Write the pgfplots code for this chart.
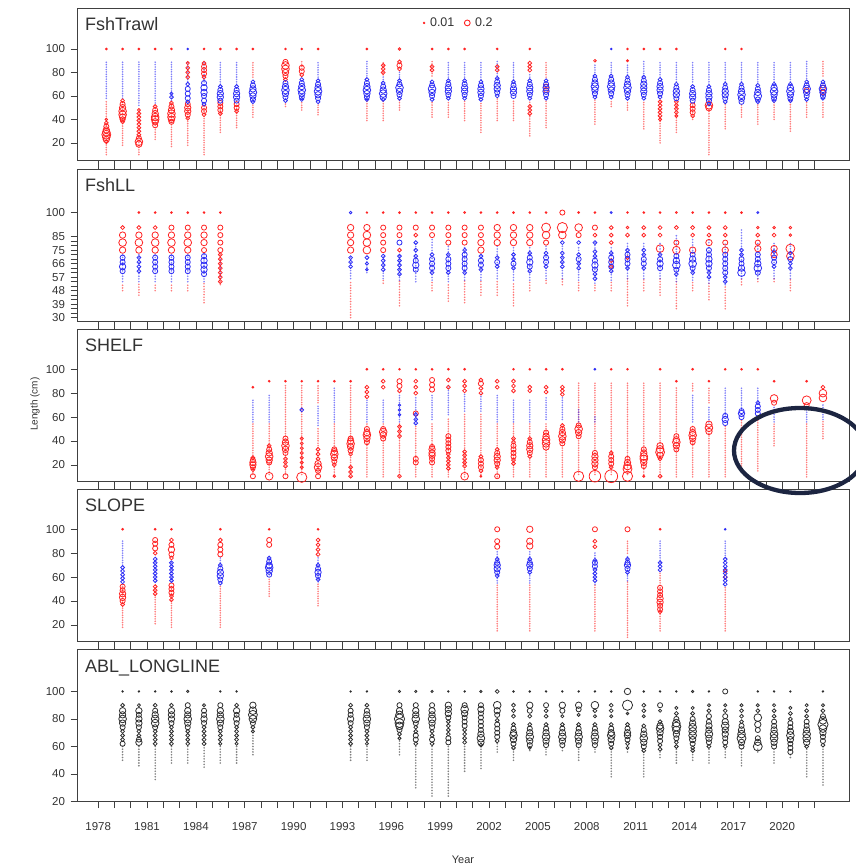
\documentclass[border=0pt]{standalone}
\usepackage{pgfplots}
\pgfplotsset{compat=1.18}
\usepackage{pgfplotstable}
\usepackage{fontspec}
\setmainfont{Liberation Sans}
\definecolor{mred}{RGB}{255,35,35}
\definecolor{mblue}{RGB}{45,45,245}
\definecolor{mblk}{RGB}{45,45,45}
\definecolor{navy}{RGB}{28,37,65}
\definecolor{axgray}{RGB}{64,64,64}
\definecolor{txt}{RGB}{51,51,51}

\pgfplotsset{
 panel/.style={scale only axis, width=772pt, height=152pt, anchor=north west,
   xmin=1976.7, xmax=2024.1,
   axis line style={axgray, line width=0.8pt},
   tick style={axgray, line width=0.6pt},
   tick align=outside, major tick length=6.5pt, minor tick length=6.5pt,
   xtick={1978,1981,...,2020}, minor xtick={1978,...,2022},
   ytick pos=left,
   /pgf/number format/assume math mode=true, /pgf/number format/1000 sep={},
   tick label style={font=\fontsize{11.5}{12}\selectfont, text=txt},
   yticklabel style={xshift=-2pt},
   clip=false},
 tail/.style={forget plot, quiver={u=0, v=\thisrow{b}-\thisrow{a}}, line width=1.8pt, line cap=round, dash pattern=on 0pt off #1, opacity=0.6},
 bub/.style={forget plot, scatter, only marks, mark=o, line width=0.8pt, scatter/use mapped color={draw=#1}, visualization depends on={\thisrow{r}\as\rr}, scatter/@pre marker code/.append style={/tikz/mark size=1.28*\rr}}
}
\tikzset{ptitle/.style={anchor=base west, font=\fontsize{18}{18}\selectfont, text=txt, xshift=4.5pt, yshift=-22.5pt}}

% ---------------- Panel 1: FshTrawl ----------------
\pgfplotstableread[row sep=\\]{
yr a b\\
1978 10 56\\1979 18 56\\1980 10 50\\1981 23 52\\1982 17 54\\1983 18 52\\1984 10 52\\1985 29 52\\1986 33 52\\1987 42 54\\1987 76 90\\
1989 51 55\\1990 48 56\\1990 85 90\\1991 44 54\\1994 39 56\\1995 39 56\\1995 78 90\\1996 48 57\\1998 42 56\\1998 77 90\\1999 42 56\\2000 39 56\\2001 29 55\\2002 39 58\\2003 39 57\\2004 26 56\\2005 33 56\\2005 76 90\\
2008 36 57\\2009 51 57\\2010 48 56\\2011 32 56\\2012 20 56\\2013 29 56\\2014 40 54\\2015 10 50\\2016 32 54\\2017 42 54\\2018 36 54\\2019 40 55\\2020 30 55\\2021 42 56\\2022 42 56\\2022 77 90\\
}\PaTr
\pgfplotstableread[row sep=\\]{
yr a b\\
1978 58 90\\1979 58 90\\1980 52 90\\1981 54 90\\1982 56 90\\1983 72 90\\1984 72 90\\1985 70 90\\1986 70 90\\1991 74 90\\1994 75 90\\1995 72 77\\1996 74 82\\
1999 74 90\\2000 74 90\\2001 74 90\\2002 75 90\\2003 74 90\\2004 76 80\\2008 78 88\\2009 76 90\\2010 78 88\\2011 77 90\\2012 76 90\\2013 72 90\\2014 72 90\\
2015 70 90\\2016 72 90\\2017 72 90\\2018 72 90\\2019 72 90\\2020 72 90\\2021 75 90\\
}\PaTb
\pgfplotstableread[row sep=\\]{
yr v r\\
1978 100 .7\\1978 40 1\\1978 37 1.5\\1978 34 2\\1978 31 2.5\\1978 29 3\\1978 27 3.5\\1978 25 3\\1978 23 2.5\\1978 21 1.5\\
1979 100 .7\\1979 56 1.5\\1979 53 2\\1979 50 2.5\\1979 47 3\\1979 44 3\\1979 42 2.5\\1979 40 2\\1979 38 1.5\\
1980 100 .7\\1980 48 1.2\\1980 45 1.5\\1980 42 1.5\\1980 39 1.5\\1980 36 1.5\\1980 33 1.5\\1980 30 1.5\\1980 27 1.5\\1980 24 2\\1980 21 3\\1980 19 2.5\\
1981 100 .7\\1981 51 1.5\\1981 48 2\\1981 45 2.5\\1981 42 3\\1981 40 3\\1981 38 2.5\\1981 35 2\\
1982 100 .7\\1982 54 1.5\\1982 51 2\\1982 48 2.5\\1982 45 3\\1982 42 3\\1982 40 2.5\\1982 38 2\\
1983 88 1.2\\1983 84 1.5\\1983 80 1.5\\1983 76 1.5\\1983 53 2\\1983 50 2.5\\1983 47 2.5\\1983 44 2\\1983 41 1.5\\
1984 100 .7\\1984 88 1.5\\1984 85 2\\1984 82 2\\1984 79 2\\1984 76 1.5\\1984 50 2\\1984 47 2\\1984 44 1.5\\
1985 100 .7\\1985 54 2\\1985 51 2\\1985 48 2\\1985 45 1.5\\
1986 100 .7\\1986 53 2\\1986 50 2\\1986 47 1.5\\
1987 100 .7\\
1989 100 .7\\1989 89 2\\1989 86 3\\1989 83 3\\1989 80 2.5\\1989 77 2\\1989 74 1.5\\
1990 100 .7\\1990 84 2\\1990 81 2\\1990 78 1.5\\
1991 100 .7\\1994 100 .7\\
1995 86 1.5\\1995 83 1.5\\1995 80 1.5\\
1996 100 1\\1996 89 1.5\\1996 86 2\\1996 83 1.5\\
1998 100 .7\\1998 85 1.5\\1998 82 1.5\\
1999 100 .7\\2000 100 .7\\
2002 100 .7\\2002 85 1.5\\2002 82 1.5\\
2004 100 .7\\2004 88 1.5\\2004 85 1.5\\2004 82 1.5\\2004 51 1.5\\2004 48 1.5\\2004 45 1.5\\
2005 68 2\\2005 65 2\\
2008 90 1\\2010 100 .7\\2010 90 .8\\2011 100 .7\\
2012 100 .7\\2012 55 1.5\\2012 52 1.5\\2012 49 1.5\\2012 46 1.5\\2012 43 1.5\\2012 40 1.2\\
2013 100 .7\\2013 55 1.5\\2013 52 1.5\\2013 49 1.5\\2013 46 1.5\\2013 43 1.2\\
2014 52 2\\2014 49 2\\2014 46 2\\2014 43 1.5\\
2015 52 3\\2015 50 2.5\\
2016 100 .7\\2017 100 .7\\
2021 65 2\\2022 67 2\\2022 63 2\\
}\PaCr
\pgfplotstableread[row sep=\\]{
yr v r\\
1982 62 1.2\\1982 59 1.5\\
1983 100 .7\\1983 70 1.5\\1983 66 2\\1983 62 2\\1983 58 2\\1983 55 1.5\\
1984 71 2\\1984 67 2.5\\1984 63 2.5\\1984 60 2\\1984 56 2\\1984 53 1.5\\
1985 68 1.5\\1985 65 2\\1985 62 2.5\\1985 59 2.5\\1985 56 2\\
1986 68 1.5\\1986 65 2\\1986 62 2.5\\1986 59 2.5\\1986 56 2\\
1987 72 1.5\\1987 69 2\\1987 66 2.5\\1987 63 3\\1987 60 2.5\\1987 57 2\\1987 55 1.5\\
1989 71 2\\1989 68 2.5\\1989 65 3\\1989 62 2.5\\1989 59 2\\1989 56 1.5\\
1990 74 1.5\\1990 71 2\\1990 68 2.5\\1990 65 3\\1990 62 2.5\\1990 59 2\\1990 57 1.5\\
1991 73 1.5\\1991 70 2\\1991 67 2.5\\1991 64 3\\1991 61 2.5\\1991 58 2\\1991 55 1.5\\
1994 74 1.5\\1994 71 2\\1994 68 2.5\\1994 65 3\\1994 62 2.5\\1994 59 2\\1994 57 1.5\\
1995 71 1.5\\1995 68 2\\1995 65 2.5\\1995 62 3\\1995 59 2.5\\1995 57 1.5\\
1996 73 1.5\\1996 70 2\\1996 67 3\\1996 64 2.5\\1996 61 2\\1996 58 1.5\\
1998 72 1.5\\1998 69 2\\1998 66 3\\1998 63 2.5\\1998 60 2\\1998 57 1.5\\
1999 73 1.5\\1999 70 2\\1999 67 2.5\\1999 64 2.5\\1999 61 2\\1999 58 1.5\\
2000 73 1.5\\2000 70 2\\2000 67 2.5\\2000 64 2.5\\2000 61 2\\2000 58 1.5\\
2001 72 1.5\\2001 69 2\\2001 66 2.5\\2001 63 2.5\\2001 60 2\\2001 57 1.5\\
2002 75 1.5\\2002 72 2\\2002 69 2.5\\2002 66 2.5\\2002 63 2\\2002 60 1.5\\
2003 72 1.5\\2003 69 2\\2003 66 2.5\\2003 63 2.5\\2003 60 2\\
2004 73 1.5\\2004 70 2\\2004 67 2.5\\2004 64 2.5\\2004 61 2\\2004 58 1.5\\
2005 73 1.5\\2005 70 2\\2005 67 2.5\\2005 64 2.5\\2005 61 2\\2005 58 1.5\\
2008 77 1.5\\2008 74 2\\2008 71 2.5\\2008 68 3\\2008 65 2.5\\2008 62 2\\2008 59 1.5\\
2009 100 .7\\2009 77 1.5\\2009 74 2\\2009 71 2.5\\2009 68 3\\2009 65 2.5\\2009 62 2\\2009 59 1.5\\
2010 76 1.5\\2010 73 2\\2010 70 2.5\\2010 67 3\\2010 64 2.5\\2010 61 2\\2010 58 1.5\\
2011 76 1.5\\2011 73 2\\2011 70 2.5\\2011 67 2.5\\2011 64 2.5\\2011 61 2\\2011 58 1.5\\
2012 74 1.5\\2012 71 2\\2012 68 2.5\\2012 65 2.5\\2012 62 2\\2012 59 1.5\\
2013 70 1.5\\2013 67 2\\2013 64 2.5\\2013 61 2.5\\2013 58 2\\
2014 68 1.5\\2014 65 2\\2014 62 2.5\\2014 59 2.5\\2014 56 2\\
2015 68 1.5\\2015 65 2\\2015 62 2.5\\2015 59 2.5\\2015 56 2\\2015 53 1.5\\
2016 70 1.5\\2016 67 2\\2016 64 2.5\\2016 61 2.5\\2016 58 2\\2016 55 1.5\\
2017 70 1.5\\2017 67 2\\2017 64 2.5\\2017 61 3\\2017 58 2.5\\2017 55 2\\
2018 69 1.5\\2018 66 2\\2018 63 2.5\\2018 60 3\\2018 57 2\\2018 55 1.5\\
2019 70 1.5\\2019 67 2.5\\2019 64 3\\2019 61 2.5\\2019 58 2\\2019 56 1.5\\
2020 70 1.5\\2020 67 2.5\\2020 64 3\\2020 61 2.5\\2020 58 2\\2020 56 1.5\\
2021 72 1.5\\2021 69 2\\2021 66 3\\2021 63 2.5\\2021 60 2\\2021 57 1.5\\
2022 72 1.5\\2022 69 2\\2022 66 3\\2022 63 2.5\\2022 60 2\\2022 58 1.5\\
}\PaCb

% ---------------- Panel 2: FshLL ----------------
\pgfplotstableread[row sep=\\]{
yr a b\\
1979 48 53\\1980 45 53\\1981 48 53\\1982 48 53\\1983 48 53\\1984 40 53\\1985 52 72\\1993 30 55\\1995 53 56\\1996 38 55\\1998 48 55\\1999 41 53\\2000 40 55\\
2001 45 54\\2002 45 55\\2003 38 54\\2004 48 54\\2005 53 55\\2006 52 56\\2007 48 54\\2008 48 53\\2009 48 55\\2010 38 56\\2011 48 56\\2012 45 56\\2013 36 54\\
2014 48 54\\2015 42 53\\2016 36 52\\2017 52 56\\2018 54 56\\2019 54 56\\2020 48 56\\
}\PbTr
\pgfplotstableread[row sep=\\]{
yr a b\\
1979 54 72\\1980 54 72\\1981 54 72\\1982 54 72\\1983 54 72\\1984 54 72\\1985 56 70\\1993 56 72\\1994 60 72\\1995 56 72\\1996 55 72\\1997 54 80\\1998 55 82\\
1999 54 78\\2000 55 78\\2001 55 72\\2002 56 78\\2003 55 78\\2004 55 78\\2005 56 78\\2006 56 78\\2007 55 78\\2008 53 80\\2009 55 78\\2010 56 80\\2011 56 80\\
2012 56 80\\2013 54 85\\2014 55 82\\2015 53 82\\2016 52 80\\2017 56 90\\2018 56 80\\2019 56 80\\2020 56 80\\
}\PbTb
\pgfplotstableread[row sep=\\]{
yr v r\\
1979 90 1.5\\1979 85 2.5\\1979 80 3\\1979 75 2.5\\
1980 100 .7\\1980 90 1.5\\1980 85 2.5\\1980 80 3\\1980 75 2.5\\
1981 100 .7\\1981 90 1.5\\1981 85 2.5\\1981 80 3\\1981 75 2.5\\
1982 100 .7\\1982 90 2\\1982 85 2.5\\1982 80 3\\1982 75 2.5\\
1983 100 .7\\1983 90 2\\1983 85 2.5\\1983 80 3\\1983 75 2.5\\
1984 100 .7\\1984 90 2\\1984 85 2.5\\1984 80 2.5\\1984 75 2\\
1985 100 .7\\1985 90 2\\1985 85 2\\1985 80 2\\1985 75 2\\1985 72 1.5\\1985 69 1.5\\1985 66 1.5\\1985 63 1.5\\1985 60 1.5\\1985 57 1.5\\1985 54 1.5\\
1993 90 2.5\\1993 85 2.5\\1993 80 2.5\\1993 75 2.5\\
1994 100 .6\\1994 90 2.5\\1994 85 3\\1994 80 3\\1994 75 3\\
1995 100 .7\\1995 90 2\\1995 85 2\\1995 80 2\\1995 75 2\\
1996 100 .7\\1996 90 2\\1996 85 2\\1996 75 1.5\\
1997 100 .7\\1997 90 2\\1997 85 1.5\\
1998 100 .7\\1998 90 2\\1998 85 2\\
1999 100 .7\\1999 90 2\\1999 85 2\\1999 80 2\\
2000 100 .7\\2000 90 2\\2000 85 2\\2000 80 2\\
2001 100 .7\\2001 90 2\\2001 85 2\\2001 80 2.5\\2001 75 2.5\\
2002 100 .7\\2002 90 2.5\\2002 85 2.5\\2002 80 2.5\\
2003 100 .7\\2003 90 2.5\\2003 85 2.5\\2003 80 2.5\\
2004 100 .7\\2004 90 2.5\\2004 85 2.5\\2004 80 2.5\\
2005 100 .7\\2005 90 3.5\\2005 85 3\\2005 80 2\\
2006 100 2\\2006 90 4\\2006 85 3\\
2007 100 .7\\2007 90 3\\2007 85 2\\
2008 100 .7\\2008 90 2\\2008 85 1.5\\
2009 90 1.5\\2009 85 1.5\\2009 80 1.5\\2009 68 1.5\\2009 64 1.5\\
2010 100 .6\\2010 90 1\\2010 85 1.5\\2010 70 1.5\\
2011 100 .7\\2011 90 1.5\\2011 85 1.5\\
2012 100 .7\\2012 90 1.5\\2012 85 1.5\\2012 76 3\\
2013 100 .7\\2013 90 1.5\\2013 80 2\\2013 75 3\\
2014 100 .7\\2014 90 1.5\\2014 85 1.5\\2014 75 2.5\\
2015 100 .7\\2015 90 1.5\\2015 85 1.5\\2015 80 2.5\\
2016 100 .7\\2016 90 1.5\\2016 85 1.5\\2016 80 2\\2016 75 2.5\\
2017 100 .7\\
2018 90 1\\2018 85 1.5\\2018 80 2\\2018 76 2.5\\
2019 90 1\\2019 85 1.5\\2019 76 2.5\\2019 72 2.5\\
2020 90 1\\2020 85 1\\2020 76 3.5\\2020 71 3\\
}\PbCr
\pgfplotstableread[row sep=\\]{
yr v r\\
1979 70 2\\1979 67 2\\1979 64 2.5\\1979 61 2\\
1980 70 1.5\\1980 67 1.5\\1980 64 1.5\\1980 61 1.5\\
1981 70 2\\1981 67 2\\1981 64 2\\1981 61 2\\
1982 70 2\\1982 67 2\\1982 64 2\\1982 61 2\\
1983 70 2\\1983 67 2\\1983 64 2\\1983 61 2\\
1984 71 2\\1984 68 2.5\\1984 65 2.5\\1984 62 2.5\\1984 59 2\\
1993 100 1\\1993 70 1.5\\1993 67 1.5\\1993 64 1.5\\
1994 70 1.5\\1994 66 1.2\\1994 62 1\\
1995 71 1.5\\1995 68 1.5\\1995 65 1.5\\1995 62 1.5\\
1996 80 2\\1996 71 1.5\\1996 68 1.5\\1996 65 1.5\\1996 62 1.5\\1996 59 1.5\\
1997 80 1.5\\1997 75 1.5\\1997 71 1.5\\1997 68 2\\1997 65 2.5\\1997 62 2\\
1998 72 1.5\\1998 69 2\\1998 66 2\\1998 63 2\\1998 60 1.5\\
1999 72 1.5\\1999 69 2\\1999 66 2\\1999 63 2\\1999 60 1.5\\
2000 75 1.5\\2000 72 2\\2000 69 2\\2000 66 2\\2000 63 2\\2000 60 1.5\\
2001 71 1.5\\2001 68 2\\2001 65 2\\2001 62 1.5\\
2002 70 1.5\\2002 67 2\\2002 64 1.5\\
2003 72 1.5\\2003 69 1.5\\2003 66 2\\2003 63 1.5\\
2004 73 1.5\\2004 70 2\\2004 67 2.5\\2004 64 2\\2004 61 1.5\\
2005 73 1.5\\2005 70 2\\2005 67 2\\2005 64 1.5\\
2006 80 1.5\\2006 73 1.5\\2006 70 1.5\\2006 67 1.5\\2006 64 1.5\\
2007 80 1.5\\2007 72 1.5\\2007 69 2\\2007 66 1.5\\2007 63 1.5\\
2008 80 1.5\\2008 74 1.5\\2008 71 1.5\\2008 68 2\\2008 65 2.5\\2008 62 2\\2008 59 1.5\\2008 56 1.5\\
2009 100 .8\\2009 73 1.5\\2009 70 2\\2009 67 2\\2009 64 2\\2009 61 1.5\\
2010 75 1.5\\2010 72 2\\2010 69 2\\2010 66 2\\2010 63 1.5\\
2011 75 1.5\\2011 72 1.5\\2011 69 2\\2011 66 2\\2011 63 1.5\\
2012 72 1.5\\2012 69 2\\2012 66 2.5\\2012 63 2\\
2013 71 2\\2013 68 2.5\\2013 65 3\\2013 62 2\\2013 59 1.5\\
2014 72 2\\2014 69 2.5\\2014 66 3\\2014 63 2\\2014 60 1.5\\
2015 75 2\\2015 72 2\\2015 69 2.5\\2015 66 2.5\\2015 63 2\\2015 60 1.5\\2015 57 1.5\\
2016 72 2\\2016 69 2\\2016 66 2\\2016 63 2\\2016 60 2\\2016 57 1.5\\2016 54 1.5\\
2017 75 1.5\\2017 72 1.5\\2017 69 2\\2017 66 2\\2017 63 2.5\\2017 60 3\\
2018 100 .8\\2018 72 2\\2018 69 2\\2018 66 2.5\\2018 63 3\\2018 60 2\\
2019 74 1.5\\2019 70 2\\2019 67 2\\2019 64 1.5\\
2020 73 1.5\\2020 69 2\\2020 66 1.5\\2020 63 1.5\\
}\PbCb

% ---------------- Panel 3: SHELF ----------------
\pgfplotstableread[row sep=\\]{
yr a b\\
1987 12 55\\1988 12 55\\1989 12 88\\1990 12 88\\1991 12 52\\1991 72 88\\1992 10 55\\1993 10 88\\1994 10 55\\1995 10 55\\1996 10 55\\1997 10 54\\1998 10 56\\
1999 10 60\\2000 10 63\\2001 10 64\\2002 10 55\\2003 10 55\\2004 10 55\\2005 10 56\\2006 10 56\\2007 12 90\\2008 12 90\\2009 12 90\\2010 12 89\\2011 10 90\\
2012 10 89\\2013 10 86\\2014 10 54\\2014 82 90\\2015 10 52\\2015 72 86\\2016 10 54\\2017 15 58\\2018 15 61\\2019 36 55\\2021 10 55\\2022 42 57\\
}\PcTr
\pgfplotstableread[row sep=\\]{
yr a b\\
1987 56 76\\1988 56 80\\1991 53 70\\1992 56 85\\1994 56 76\\1995 56 75\\1996 56 80\\1997 54 78\\1998 58 80\\1999 62 88\\2000 65 81\\2001 65 80\\2002 56 80\\
2003 56 76\\2004 56 76\\2005 58 78\\2006 58 78\\2007 56 68\\2008 56 62\\2014 56 80\\2015 56 70\\2016 62 86\\2017 66 86\\2018 72 86\\2019 56 70\\2021 56 68\\2022 58 72\\
}\PcTb
\pgfplotstableread[row sep=\\]{
yr v r\\
1987 85 .7\\1987 26 1.5\\1987 24 2\\1987 22 2.5\\1987 20 2.5\\1987 18 2\\1987 16 1.5\\1987 10.5 2\\
1988 90 .7\\1988 36 1.5\\1988 33 2\\1988 30 2.5\\1988 27 3\\1988 24 2.5\\1988 22 2\\1988 10.5 3\\
1989 90 .7\\1989 42 2\\1989 39 2.5\\1989 36 3\\1989 33 2.5\\1989 30 2\\1989 25 1.5\\1989 22 1.5\\1989 19 1.5\\1989 10.5 2\\
1990 90 .7\\1990 42 1.2\\1990 38 1.2\\1990 34 1.2\\1990 30 1.2\\1990 26 1.2\\1990 22 1.2\\1990 18 1.2\\1990 9.6 4\\
1991 90 .7\\1991 33 1.5\\1991 29 1.5\\1991 25 1.5\\1991 21 2.5\\1991 18 3\\1991 15 2\\1991 10.5 2\\
1992 90 .7\\1992 33 2\\1992 31 2.5\\1992 29 3\\1992 26 2.5\\1992 23 2\\1992 20 1.5\\1992 10.5 1\\
1993 90 .7\\1993 42 2\\1993 40 2.5\\1993 37.7 3\\1993 35 2.5\\1993 32 2\\1993 29 1.5\\1993 18 1.5\\1993 14 1.5\\1993 10.5 1.5\\
1994 100 .7\\1994 85 1.5\\1994 81 1.5\\1994 77 1.5\\1994 50 2\\1994 47 2.5\\1994 45 3\\1994 42 2.5\\1994 39 2\\
1995 100 .7\\1995 90 1.5\\1995 85 1.5\\1995 50 2\\1995 47.5 3\\1995 45 2.5\\1995 42 2\\
1996 100 .7\\1996 90 2\\1996 86 2\\1996 82 1.5\\1996 52 1.5\\1996 48 1.5\\1996 44 1.5\\1996 10.5 1.5\\
1997 100 .7\\1997 90 1.5\\1997 85 1.5\\1997 80 1.5\\1997 63 2\\1997 25 2\\1997 22 2\\
1998 100 .7\\1998 91 2\\1998 87 2\\1998 83 2\\1998 35 2\\1998 33 2.5\\1998 30 2.5\\1998 28 2.5\\1998 25 2\\1998 22 2\\
1999 100 .7\\1999 91 1.5\\1999 85 1.5\\1999 44 2\\1999 41 2\\1999 38 2\\1999 35 2\\1999 32 2\\1999 29 1.5\\1999 26 1.5\\1999 23 1.5\\1999 20 1.5\\1999 17 1.5\\
2000 100 .7\\2000 90 1.5\\2000 86 1.5\\2000 82 1.5\\2000 31 1.5\\2000 28 1.5\\2000 25 1.5\\2000 22 1.5\\2000 19 1.5\\2000 10.5 3\\
2001 91 1.5\\2001 88 2\\2001 84 1.5\\2001 80 1.5\\2001 27 1.5\\2001 24 2\\2001 21 2\\2001 18 2\\2001 15 1.5\\2001 10.5 .7\\
2002 90 1.5\\2002 85 1.5\\2002 33 1.5\\2002 30 2\\2002 27 2.5\\2002 24 2.5\\2002 21 2\\2002 18 1.5\\2002 10.5 2\\
2003 100 .7\\2003 90 1.5\\2003 86 1.5\\2003 82 1.5\\2003 42 1.5\\2003 39 1.5\\2003 36 2\\2003 33 2\\2003 30 2\\2003 27 2\\2003 24 1.5\\2003 21 1.5\\
2004 100 .7\\2004 85 1.5\\2004 82 1.5\\2004 42 1.5\\2004 39 2\\2004 36 2.5\\2004 33 2.5\\2004 30 2\\2004 27 1.5\\
2005 100 .7\\2005 85 1.5\\2005 81 1.5\\2005 47 2\\2005 44 2.5\\2005 41 3\\2005 38 3\\2005 35 2.5\\
2006 100 .7\\2006 85 1.5\\2006 82 1.5\\2006 79 1.5\\2006 53 1.5\\2006 50 2\\2006 47 2.5\\2006 44 3\\2006 41 2.5\\2006 38 2\\
2007 53 2\\2007 50 3\\2007 47 2.5\\2007 44 2\\2007 10.5 4\\
2008 30 2\\2008 27 2.5\\2008 24 2.5\\2008 21 2.5\\2008 18 2\\2008 10.5 4.5\\
2009 100 .7\\2009 30 1.5\\2009 27 2\\2009 24 2\\2009 21 2\\2009 18 1.5\\2009 10.5 5\\
2010 100 .7\\2010 25 2\\2010 22 2.5\\2010 19 3\\2010 16.6 3.5\\2010 10.5 4\\
2011 33 2\\2011 30 2.5\\2011 27 3\\2011 25 3\\2011 22 2.5\\2011 19 2\\2011 10.5 .8\\
2012 100 .7\\2012 36 2.5\\2012 33 3\\2012 30.6 3.5\\2012 28 2.5\\2012 25 1.5\\2012 10.5 1.5\\
2013 90 .7\\2013 44 2\\2013 41 2.5\\2013 39 3\\2013 36 2.5\\2013 33 2\\
2014 100 .7\\2014 50 2\\2014 47 2.5\\2014 44.7 3\\2014 42 2.5\\2014 39 2\\
2015 90 .7\\2015 54 2.5\\2015 51 3\\2015 48 2.5\\
2016 100 .7\\2017 100 .7\\2018 100 .7\\
2019 90 .7\\2019 75.6 3\\2019 72 2\\
2021 90 .7\\2021 74 3.5\\2021 70 2\\
2022 85 1.5\\2022 80 3\\2022 76 3\\
}\PcCr
\pgfplotstableread[row sep=\\]{
yr v r\\
1990 66 1.5\\1996 70 1\\1996 66 1\\1996 62 1\\1997 62 1.5\\1997 58 1.5\\1997 55 1.5\\2008 100 .7\\
2016 61 2\\2016 58 2.5\\2016 55 2\\2017 65 2\\2017 63 2.5\\2017 60 2\\2018 72 1.5\\2018 69 2\\2018 66 2\\2018 63 2\\
}\PcCb

% ---------------- Panel 4: SLOPE ----------------
\pgfplotstableread[row sep=\\]{
yr a b\\
1979 18 54\\1981 21 54\\1982 18 54\\1985 18 54\\1988 44 60\\1991 36 55\\2002 15 54\\2004 15 54\\2008 15 54\\2010 9.6 56\\2010 80 91\\2012 15 65\\2016 15 53\\
}\PdTr
\pgfplotstableread[row sep=\\]{
yr a b\\
1979 70 91\\1981 56 76\\1982 56 73\\1985 70 78\\1988 62 78\\1991 56 78\\2002 55 82\\2004 55 82\\2008 54 82\\2010 57 78\\2012 70 91\\2016 76 91\\
}\PdTb
\pgfplotstableread[row sep=\\]{
yr v r\\
1979 100 .7\\1979 52 2\\1979 49 2\\1979 46 2.5\\1979 43 2.5\\1979 40 2\\1979 37 1.5\\
1981 100 .7\\1981 91 2\\1981 88 2\\1981 84 2\\1981 80 1.5\\1981 52 1.5\\1981 49 1.5\\1981 46 1.5\\
1982 100 .7\\1982 91 1.5\\1982 87 2\\1982 83 2.5\\1982 79 2\\1982 76 1.5\\1982 53 2\\1982 50 2\\1982 47 2\\1982 44 1.5\\1982 41 1.5\\
1985 100 .7\\1985 91 1.5\\1985 87 2\\1985 83 2\\1985 79 2\\
1988 100 .7\\1988 91 2\\1988 87 2\\
1991 100 .7\\1991 91 1.5\\1991 87 1.5\\1991 83 1.5\\1991 79 1.5\\
2002 100 2\\2002 90 2\\2002 85.4 2\\
2004 100 2.5\\2004 90 2.5\\2004 86 2.5\\
2008 100 2\\2008 90 1.5\\2008 85.4 1.5\\
2010 100 2\\
2012 100 .7\\2012 51 2\\2012 48 2\\2012 45 2\\2012 42 2.5\\2012 39 2.5\\2012 36 2\\2012 33 2\\2012 31 1.5\\
2016 65 1.5\\2016 60 1.5\\
}\PdCr
\pgfplotstableread[row sep=\\]{
yr v r\\
1979 68 1.5\\1979 65 1.5\\1979 62 1.5\\1979 59 1.5\\1979 56 1.5\\
1981 75 1.5\\1981 72 1.5\\1981 69 1.5\\1981 66 1.5\\1981 63 1.5\\1981 60 1.5\\1981 57 1.5\\
1982 72 1.5\\1982 69 1.5\\1982 66 1.5\\1982 63 1.5\\1982 60 1.5\\1982 57 1.5\\
1985 70 1.5\\1985 67 2\\1985 64 2.5\\1985 61 2.5\\1985 58 2\\1985 55 1.5\\
1988 76 1.5\\1988 73 2\\1988 70 2.5\\1988 68 3\\1988 65 2.5\\1988 62 2\\
1991 70 1.5\\1991 67 2\\1991 64 2.5\\1991 61 2\\1991 58 1.5\\
2002 75 1.5\\2002 72 2\\2002 70 2.5\\2002 67 2.5\\2002 64 2\\2002 61 1.5\\
2004 75 1.5\\2004 72 2\\2004 70 2.5\\2004 67 2\\2004 64 1.5\\
2008 74 1.5\\2008 72 2\\2008 69 2\\2008 66 1.5\\2008 63 1.5\\2008 60 1.5\\2008 57 1.5\\
2010 75 1.5\\2010 72 2\\2010 70 2.5\\2010 67 2\\2010 64 1.5\\
2012 72 1.5\\2012 69 1.5\\2012 66 1.5\\
2016 100 .7\\2016 75 1.5\\2016 72 1.5\\2016 69 1.5\\2016 66 1.5\\2016 63 1.5\\2016 60 1.5\\2016 57 1.5\\2016 54 1.5\\
}\PdCb

% ---------------- Panel 5: ABL_LONGLINE ----------------
\pgfplotstableread[row sep=\\]{
yr a b\\
1979 50 60\\1980 46 60\\1981 36 60\\1982 48 60\\1983 48 60\\1984 45 60\\1985 48 60\\1986 48 60\\1987 54 70\\1993 50 60\\1994 50 60\\1996 54 64\\1997 30 60\\
1998 24 60\\1999 24 60\\2000 42 61\\2001 44 60\\2002 56 62\\2003 50 58\\2004 57 59\\2005 54 59\\2006 57 59\\2007 50 59\\2008 56 59\\2009 38 58\\2010 56 59\\
2011 38 56\\2012 52 57\\2013 48 58\\2014 50 56\\2015 48 58\\2016 52 58\\2017 46 58\\2018 56 58\\2019 48 58\\2020 52 55\\2021 38 58\\2022 32 60\\
}\PeT
\pgfplotstableread[row sep=\\]{
yr v r\\
1979 100 .6\\1979 90 1.5\\1979 86 2.5\\1979 83 2.5\\1979 80 3\\1979 77 2.5\\1979 74 2\\1979 71 1.5\\1979 68 1.5\\1979 65 1.5\\1979 62 2\\
1980 100 .6\\1980 90 1.2\\1980 86 2.5\\1980 83 2\\1980 80 2.5\\1980 77 2.5\\1980 74 2\\1980 71 1.5\\1980 68 1.5\\1980 65 2\\1980 63 2.5\\
1981 100 .6\\1981 90 1.5\\1981 86 2\\1981 83 2.5\\1981 80 3\\1981 77 3\\1981 74 2\\1981 71 1.5\\1981 68 1.5\\1981 65 1.5\\1981 62 1.5\\
1982 100 .6\\1982 90 1.5\\1982 86 2.5\\1982 83 2.5\\1982 80 2.5\\1982 77 2\\1982 74 1.5\\1982 71 1.5\\1982 68 1.5\\1982 65 1.5\\1982 62 1.5\\
1983 100 .9\\1983 90 2\\1983 86 2.5\\1983 83 2.5\\1983 80 3\\1983 77 2.5\\1983 74 2\\1983 71 1.5\\1983 68 1.5\\1983 65 1.5\\1983 62 1.5\\
1984 90 1.2\\1984 86 2\\1984 83 2\\1984 80 2.5\\1984 77 2\\1984 74 1.5\\1984 71 1.5\\1984 68 1.5\\1984 65 1.5\\1984 62 1.5\\
1985 100 .6\\1985 90 2\\1985 86 2.5\\1985 83 2.5\\1985 80 3\\1985 77 2.5\\1985 74 2\\1985 71 1.5\\1985 68 1.5\\1985 65 1.5\\1985 62 1.2\\
1986 100 .6\\1986 90 1.5\\1986 86 2.5\\1986 83 2\\1986 80 2.5\\1986 77 2\\1986 74 1.5\\1986 71 1.5\\1986 68 1.5\\1986 65 1.5\\1986 62 1.2\\
1987 90 2.5\\1987 86 3\\1987 83 3.5\\1987 80 3\\1987 77 2\\1987 74 1.5\\1987 71 1.2\\
1993 100 .6\\1993 90 1.5\\1993 86 2\\1993 83 2\\1993 80 2.5\\1993 77 2\\1993 74 1.5\\1993 71 1.5\\1993 68 1.5\\1993 65 1.5\\1993 62 1.5\\
1994 100 .6\\1994 90 1.5\\1994 86 2\\1994 83 2.5\\1994 80 3\\1994 77 2.5\\1994 74 2\\1994 71 1.5\\1994 68 1.5\\1994 65 1.5\\1994 62 1.2\\
1996 100 .9\\1996 90 2\\1996 86 2.5\\1996 83 3\\1996 80 4\\1996 77 3.5\\1996 75 3\\1996 72 2\\1996 69 1.5\\1996 66 1.2\\
1997 100 .9\\1997 90 2\\1997 86 2.5\\1997 83 2.5\\1997 80 3\\1997 77 2\\1997 74 1.5\\1997 71 1.5\\1997 68 2\\1997 65 2\\1997 62 1.5\\
1998 100 .9\\1998 90 2\\1998 86 2.5\\1998 83 2.5\\1998 80 3\\1998 77 2.5\\1998 74 2\\1998 71 1.5\\1998 68 1.5\\1998 65 2\\1998 62 1.5\\
1999 100 .6\\1999 90 2.5\\1999 87 2.5\\1999 84 2.5\\1999 81 2\\1999 78 1.5\\1999 75 1.5\\1999 72 1.5\\1999 69 1.5\\1999 66 2\\1999 63 2\\
2000 100 .6\\2000 90 2\\2000 87 3\\2000 84 2.5\\2000 81 2\\2000 78 2\\2000 75 2\\2000 72 1.5\\2000 69 1.5\\2000 66 1.5\\2000 63 1.5\\
2001 100 .9\\2001 90 2\\2001 87 2.5\\2001 84 2\\2001 81 2\\2001 78 2\\2001 75 2\\2001 72 2\\2001 69 2.5\\2001 66 3\\2001 63 2.5\\2001 61 1.5\\
2002 100 1.5\\2002 90 3\\2002 86 2.5\\2002 83 2\\2002 79 1.5\\2002 76 2\\2002 73 2\\2002 70 2\\2002 67 2\\2002 64 1.5\\
2003 100 .6\\2003 90 1.5\\2003 86 1.5\\2003 82 1.5\\2003 76 1.5\\2003 73 2\\2003 70 2.5\\2003 68 3\\2003 65 2.5\\2003 62 2\\2003 59 1.5\\
2004 100 .6\\2004 90 2.5\\2004 86 2\\2004 82 1.5\\2004 76 1.5\\2004 73 2\\2004 70 2.5\\2004 67 3\\2004 64 2.5\\2004 61 2\\2004 59 1.2\\
2005 100 .6\\2005 90 2\\2005 86 1.5\\2005 82 1.5\\2005 76 1.5\\2005 73 2\\2005 70 2.5\\2005 67 3\\2005 64 2.5\\2005 61 2\\
2006 100 .6\\2006 90 2.5\\2006 86 2\\2006 82 1.2\\2006 76 1.5\\2006 73 2\\2006 70 2.5\\2006 67 3\\2006 64 2.5\\2006 61 2\\
2007 100 .6\\2007 90 2.5\\2007 87 2\\2007 83 1.2\\2007 76 1.5\\2007 73 2\\2007 70 2.5\\2007 67 3\\2007 64 2.5\\2007 61 2\\
2008 100 .6\\2008 90 3\\2008 86 1.5\\2008 82 1.2\\2008 76 1.5\\2008 73 2\\2008 70 2.5\\2008 67 3\\2008 64 2.5\\2008 61 2\\
2009 100 .6\\2009 90 1.5\\2009 86 1.5\\2009 82 1.2\\2009 76 1.5\\2009 73 2\\2009 70 2.5\\2009 68 3\\2009 65 2.5\\2009 62 2\\2009 59 1.5\\
2010 100 2.5\\2010 90 4\\2010 84 1\\2010 76 1.5\\2010 73 2\\2010 70 2.5\\2010 68 2.5\\2010 65 2\\2010 62 1.5\\2010 59 1.2\\
2011 100 .6\\2011 90 1.5\\2011 86 1.5\\2011 82 1.2\\2011 75 1.5\\2011 72 2\\2011 69 2.5\\2011 66 3\\2011 63 2.5\\2011 60 2\\2011 57 1.5\\
2012 100 .6\\2012 90 2\\2012 86 1.2\\2012 78 1.5\\2012 75 2.5\\2012 73 3\\2012 70 2.5\\2012 67 2\\2012 64 2\\2012 61 1.5\\2012 58 1.5\\
2013 100 .6\\2013 88 1.2\\2013 84 1.5\\2013 80 2\\2013 77 3\\2013 74.5 3.5\\2013 72 3\\2013 69 2.5\\2013 66 2\\2013 63 1.5\\2013 60 1.5\\
2014 100 .9\\2014 88 1.2\\2014 84 1.5\\2014 80 2\\2014 77 2.5\\2014 74 3\\2014 71 3\\2014 68 3\\2014 65 2.5\\2014 62 2\\2014 59 1.5\\2014 57 1.5\\
2015 100 .6\\2015 90 1.2\\2015 86 1.5\\2015 82 2\\2015 78 2\\2015 75 2.5\\2015 72 2.5\\2015 69 3\\2015 66 2.5\\2015 63 2\\2015 60 1.5\\
2016 100 2\\2016 90 1.2\\2016 86 1.5\\2016 82 2\\2016 78 2.5\\2016 75 3\\2016 72 2.5\\2016 69 2.5\\2016 66 2\\2016 63 2\\2016 60 1.5\\
2017 90 1.2\\2017 86 1.5\\2017 82 1.5\\2017 78 1.5\\2017 75 2\\2017 72 2.5\\2017 69 3\\2017 66 3.5\\2017 63 2.5\\2017 60 2\\
2018 100 .6\\2018 90 1.2\\2018 86 1.5\\2018 81 3\\2018 76 2.5\\2018 72 2\\2018 66 2\\2018 63 2.5\\2018 60 3.5\\
2019 100 .6\\2019 90 1.2\\2019 86 1.5\\2019 82 1.5\\2019 78 2\\2019 75 2\\2019 72 2.5\\2019 69 3\\2019 66 3\\2019 63 2.5\\2019 60 2\\
2020 100 .6\\2020 88 1.2\\2020 84 1.5\\2020 80 1.5\\2020 77 2\\2020 74 2\\2020 71 2.5\\2020 68 3\\2020 65 2.5\\2020 62 2\\2020 59 2\\2020 56 2\\
2021 90 1.2\\2021 86 1.5\\2021 82 1.5\\2021 78 2\\2021 75 2\\2021 72 2.5\\2021 69 3\\2021 66 3\\2021 63 2.5\\2021 60 1.5\\
2022 100 .6\\2022 90 1.2\\2022 86 1.5\\2022 82 2\\2022 79 3\\2022 76 4\\2022 73 3\\2022 70 2.5\\2022 67 2\\2022 64 2\\2022 61 1.5\\
}\PeC

\begin{document}
\begin{tikzpicture}
\path[use as bounding box] (0pt,0pt) rectangle (856pt,-867pt);

% Panel 1
\begin{axis}[panel, at={(77pt,-8.5pt)}, ymin=5, ymax=134.5, ytick={20,40,...,100}, xtick pos=left, xticklabels={},
  legend style={draw=none, fill=none, at={(axis description cs:0.448,0.905)}, anchor=west, legend columns=2,
   font=\fontsize{12.5}{12.5}\selectfont, text=txt, inner sep=0pt,
   /tikz/every odd column/.append style={column sep=3pt}, /tikz/every even column/.append style={column sep=8pt}},
  legend image code/.code={\draw[#1] plot coordinates {(0pt,0pt)};}]
\addplot[mred, tail=2.4pt] table[x expr=\thisrow{yr}+0.5, y=a] {\PaTr};
\addplot[mblue, tail=2.4pt] table[x expr=\thisrow{yr}+0.5, y=a] {\PaTb};
\addplot[bub=mred] table[x expr=\thisrow{yr}+0.5, y=v] {\PaCr};
\addplot[bub=mblue] table[x expr=\thisrow{yr}+0.5, y=v] {\PaCb};
\addlegendimage{only marks, mark=*, mark size=1pt, mred}
\addlegendentry{0.01}
\addlegendimage{only marks, mark=o, mark size=2.9pt, line width=0.9pt, mred}
\addlegendentry{0.2}
\node[ptitle] at (rel axis cs:0,1) {FshTrawl};
\end{axis}

% Panel 2
\begin{axis}[panel, at={(77pt,-169pt)}, ymin=27.8, ymax=129, ytick={30,33,...,84,100},
  yticklabels={30,,,39,,,48,,,57,,,66,,,75,,,85,100}, xtick pos=both, xticklabels={}]
\addplot[mred, tail=2.7pt] table[x expr=\thisrow{yr}+0.5, y=a] {\PbTr};
\addplot[mblue, tail=2.7pt] table[x expr=\thisrow{yr}+0.5, y=a] {\PbTb};
\addplot[bub=mred] table[x expr=\thisrow{yr}+0.5, y=v] {\PbCr};
\addplot[bub=mblue] table[x expr=\thisrow{yr}+0.5, y=v] {\PbCb};
\node[ptitle] at (rel axis cs:0,1) {FshLL};
\end{axis}

% Panel 3
\begin{axis}[panel, at={(77pt,-329pt)}, ymin=6.5, ymax=133.7, ytick={20,40,...,100}, xtick pos=both, xticklabels={}]
\addplot[mred, tail=2.4pt] table[x expr=\thisrow{yr}+0.5, y=a] {\PcTr};
\addplot[mblue, tail=2.4pt] table[x expr=\thisrow{yr}+0.5, y=a] {\PcTb};
\addplot[bub=mred] table[x expr=\thisrow{yr}+0.5, y=v] {\PcCr};
\addplot[bub=mblue] table[x expr=\thisrow{yr}+0.5, y=v] {\PcCb};
\node[ptitle] at (rel axis cs:0,1) {SHELF};
\end{axis}

% Panel 4
\begin{axis}[panel, at={(77pt,-489pt)}, ymin=6.5, ymax=133.7, ytick={20,40,...,100}, xtick pos=both, xticklabels={}]
\addplot[mred, tail=2.4pt] table[x expr=\thisrow{yr}+0.5, y=a] {\PdTr};
\addplot[mblue, tail=2.4pt] table[x expr=\thisrow{yr}+0.5, y=a] {\PdTb};
\addplot[bub=mred] table[x expr=\thisrow{yr}+0.5, y=v] {\PdCr};
\addplot[bub=mblue] table[x expr=\thisrow{yr}+0.5, y=v] {\PdCb};
\node[ptitle] at (rel axis cs:0,1) {SLOPE};
\end{axis}

% Panel 5
\begin{axis}[panel, at={(77pt,-649.5pt)}, ymin=20, ymax=130.5, ytick={20,40,...,100}, xtick pos=both,
  xticklabel style={yshift=-10.5pt}]
\addplot[mblk, tail=2.75pt] table[x expr=\thisrow{yr}+0.5, y=a] {\PeT};
\addplot[bub=mblk] table[x expr=\thisrow{yr}+0.5, y=v] {\PeC};
\node[ptitle] at (rel axis cs:0,1) {ABL\_LONGLINE};
\end{axis}

\node[rotate=90, font=\fontsize{10}{10}\selectfont, text=txt] at (35pt,-404pt) {Length (cm)};
\node[font=\fontsize{11}{11}\selectfont, text=txt] at (463pt,-860pt) {Year};
\draw[navy, line width=4.3pt] (800pt,-450.5pt) ellipse [x radius=66pt, y radius=42.5pt];
\end{tikzpicture}
\end{document}
